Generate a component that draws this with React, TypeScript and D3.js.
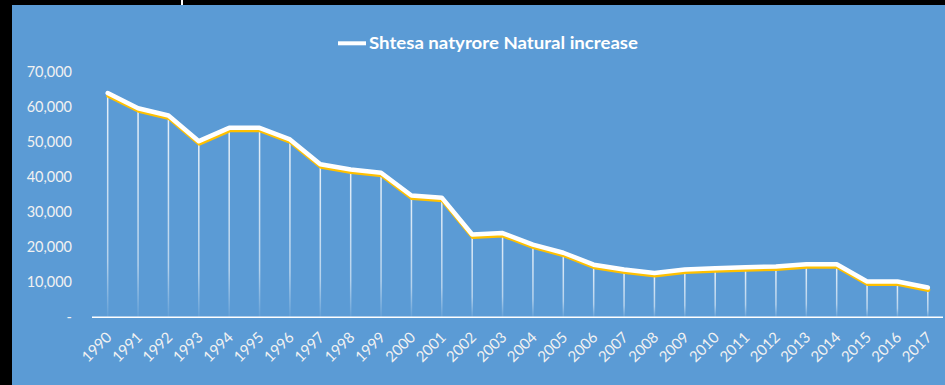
import React from "react";
import * as d3 from "d3";

const years = ["1990","1991","1992","1993","1994","1995","1996","1997","1998","1999","2000","2001","2002","2003","2004","2005","2006","2007","2008","2009","2010","2011","2012","2013","2014","2015","2016","2017"];
const naturalIncrease = [63900,59600,57500,50200,54000,54000,50700,43600,42100,41200,34700,34100,23600,24000,20700,18400,15000,13600,12600,13600,14000,14300,14500,15100,15100,10200,10200,8500];
const yTicks = [0,10000,20000,30000,40000,50000,60000,70000];
const legendLabel = "Shtesa natyrore Natural increase";

export default function App() {
  const W = 945, H = 385;
  const x = d3.scaleBand<string>().domain(years).range([92.5, 943]);
  const y = d3.scaleLinear().domain([0, 70000]).range([317.3, 71.7]);
  const cx = (yr: string) => (x(yr) as number) + x.bandwidth() / 2;
  const line = d3.line<number>().x((_, i) => cx(years[i])).y(d => y(d));
  const path = line(naturalIncrease) || "";
  const fmt = (v: number) => (v === 0 ? "-" : d3.format(",")(v));
  const font = "Lato, 'Open Sans', sans-serif";
  return (
    <svg width={W} height={H} style={{ position: "absolute", left: 0, top: 0, display: "block" }}>
      <defs>
        <linearGradient id="drop" x1="0" y1="0" x2="0" y2="1">
          <stop offset="0%" stopColor="#fff" stopOpacity={0.85} />
          <stop offset="75%" stopColor="#fff" stopOpacity={0.55} />
          <stop offset="100%" stopColor="#fff" stopOpacity={0.05} />
        </linearGradient>
      </defs>
      <rect x={0} y={0} width={W} height={H} fill="#000" />
      <rect x={12} y={5} width={W - 12} height={H - 5} fill="#5B9BD5" />
      <rect x={181} y={0} width={2} height={5} fill="#fff" />
      {/* legend */}
      <line x1={338} x2={366} y1={43.3} y2={43.3} stroke="#fff" strokeWidth={4} />
      <text x={369} y={49.3} fill="#fff" fontFamily={font} fontWeight={700} fontSize={17} textLength={269} lengthAdjust="spacingAndGlyphs">{legendLabel}</text>
      {/* y axis labels */}
      {yTicks.map(t => (
        <text key={t} x={72} y={y(t)} dy="0.35em" textAnchor="end" fill="#F2F2F2" fontFamily={font} fontSize={14.5}>{fmt(t)}</text>
      ))}
      {/* drop lines */}
      {naturalIncrease.map((v, i) => (
        <rect key={years[i]} x={cx(years[i]) - 0.75} y={y(v)} width={1.5} height={y(0) - y(v)} fill="url(#drop)" />
      ))}
      {/* axis line */}
      <line x1={92} x2={943} y1={y(0)} y2={y(0)} stroke="#fff" strokeWidth={1.5} />
      {/* x labels */}
      {years.map(yr => (
        <text key={yr} transform={`translate(${cx(yr) + 5},${y(0) + 21}) rotate(-45)`} textAnchor="end" fill="#F2F2F2" fontFamily={font} fontSize={15}>{yr}</text>
      ))}
      {/* series */}
      <path d={path} transform="translate(0.5,2.5)" fill="none" stroke="#FFC000" strokeWidth={4} strokeLinejoin="round" strokeLinecap="round" />
      <path d={path} fill="none" stroke="#fff" strokeWidth={4.5} strokeLinejoin="round" strokeLinecap="round" />
    </svg>
  );
}
